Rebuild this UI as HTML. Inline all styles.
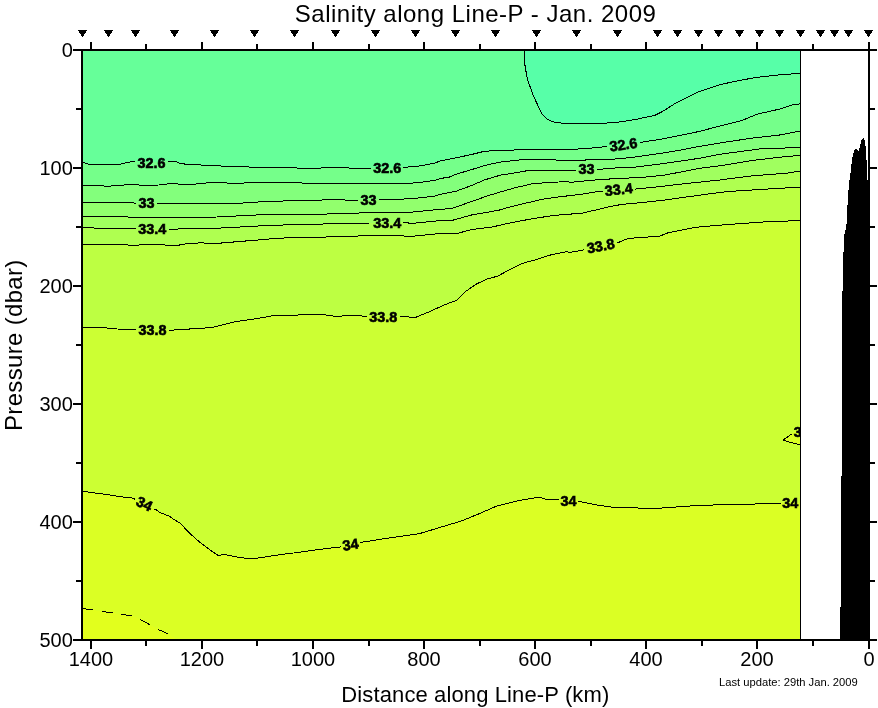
<!DOCTYPE html>
<html><head><meta charset="utf-8"><title>Salinity along Line-P - Jan. 2009</title>
<style>
html,body{margin:0;padding:0;background:#fff;}
body{width:878px;height:708px;overflow:hidden;position:relative;font-family:"Liberation Sans",sans-serif;}
</style></head><body>
<svg width="878" height="708" viewBox="0 0 878 708" style="position:absolute;left:0;top:0;will-change:transform">
<rect x="0" y="0" width="878" height="708" fill="#fff"/>
<g shape-rendering="crispEdges">
<rect x="83.0" y="50.0" width="717.0" height="590.0" fill="#66FF99"/>
<polygon points="524.3,50.0 524.8,64.2 527.2,78.6 533.2,95.4 541.6,113.4 547.6,119.4 552.4,121.8 560.8,123.0 586.0,123.6 600.0,123.6 621.5,121.8 638.3,118.9 655.0,115.3 662.2,111.7 676.6,102.6 698.1,91.9 719.6,84.7 736.4,81.1 755.5,77.5 777.0,75.1 800.5,73.3 800.0,50.0" fill="#57FFA8"/>
<polygon points="82.8,162.4 89.2,164.4 119.5,164.4 128.0,162.4 133.6,161.3 151.3,162.3 167.5,161.0 176.0,161.6 180.2,163.4 187.3,164.4 204.8,165.2 233.6,166.6 260.0,167.3 312.6,168.3 331.8,167.6 370.2,168.5 387.2,168.3 405.0,167.3 420.6,165.9 435.0,163.0 440.0,161.0 455.9,157.9 471.9,154.4 481.5,152.0 494.2,150.4 519.7,149.9 551.6,149.6 577.1,149.2 580.0,148.7 594.1,147.9 606.1,146.5 623.3,144.5 639.3,142.6 659.1,139.5 678.8,135.6 700.0,131.3 719.8,126.0 741.5,120.7 757.4,114.1 779.1,109.2 793.0,104.8 800.5,103.8 800.0,640.0 82.0,640.0" fill="#75FF8A"/>
<polygon points="82.8,185.6 102.6,185.3 105.4,186.4 128.0,184.7 136.5,184.3 140.7,185.3 159.1,185.0 163.3,184.2 176.0,183.5 178.8,184.3 192.9,184.3 212.0,182.4 236.0,183.4 260.0,182.2 288.6,182.9 351.0,183.4 370.2,183.9 399.0,183.9 418.2,182.7 435.0,180.3 440.0,178.6 449.6,177.0 455.9,174.3 471.9,169.5 484.6,165.5 500.6,162.0 522.9,159.6 554.8,159.6 557.2,160.7 580.0,160.2 618.1,158.9 636.5,156.8 661.9,153.2 678.8,150.4 700.0,146.3 723.7,142.4 753.4,137.9 779.1,135.1 800.5,131.0 800.0,640.0 82.0,640.0" fill="#83FF7C"/>
<polygon points="82.8,202.5 132.2,202.5 135.8,203.4 146.5,203.4 157.4,203.4 233.6,203.6 260.0,201.9 286.2,200.9 334.2,199.7 358.2,200.4 368.5,199.9 379.8,199.7 411.0,198.8 435.0,196.1 440.0,194.5 455.9,191.3 471.9,185.4 484.6,179.9 500.6,175.1 516.5,172.7 529.3,170.3 575.5,170.3 586.5,169.8 597.6,169.5 612.5,168.1 636.5,167.0 664.7,163.4 700.0,158.2 719.8,154.3 759.3,149.0 800.5,147.4 800.0,640.0 82.0,640.0" fill="#92FF6D"/>
<polygon points="82.8,216.4 126.6,216.4 129.4,217.5 200.0,217.8 216.8,217.0 260.0,214.8 291.0,214.6 334.2,213.9 382.2,212.2 411.0,212.2 435.0,209.8 440.0,209.5 452.8,208.2 471.9,201.4 487.8,195.8 503.8,191.0 516.5,187.4 534.1,183.4 548.4,182.7 566.0,181.5 570.8,182.4 580.0,181.4 594.1,180.1 618.1,178.4 640.7,177.6 664.7,175.1 700.0,168.3 719.8,165.8 751.4,160.6 779.1,157.3 800.5,155.3 800.0,640.0 82.0,640.0" fill="#A0FF5F"/>
<polygon points="82.8,227.2 92.7,227.2 94.8,228.4 135.1,228.4 152.0,229.0 168.2,229.8 177.4,229.3 178.8,228.4 200.0,228.1 212.0,228.5 260.0,225.9 291.0,224.7 346.2,223.5 370.2,223.0 387.2,222.8 405.0,222.3 411.0,223.5 435.0,221.1 440.0,220.5 452.8,220.2 471.9,214.9 499.0,210.2 503.8,208.6 522.9,203.8 542.1,199.3 561.2,196.6 580.0,194.5 594.1,192.1 602.6,191.1 619.0,189.6 635.1,189.1 661.9,186.4 678.8,184.3 700.0,182.1 719.8,180.0 749.5,176.1 787.0,173.1 800.5,171.1 800.0,640.0 82.0,640.0" fill="#AFFF50"/>
<polygon points="82.8,244.3 126.6,244.3 129.4,245.4 137.9,245.4 140.7,244.3 163.3,244.3 166.1,245.4 177.4,245.4 187.3,243.5 200.0,242.9 216.8,243.4 260.0,239.8 279.0,238.1 307.8,237.6 351.0,236.2 389.4,235.2 411.0,236.4 434.7,234.1 440.0,233.3 457.5,233.3 471.9,229.6 492.6,226.9 510.2,222.9 529.3,219.3 551.6,215.7 567.6,214.2 580.0,213.6 594.1,210.4 608.2,206.9 622.4,204.3 643.5,202.4 664.7,200.1 678.8,198.0 700.0,195.2 711.9,193.5 727.7,191.5 779.1,188.3 800.5,187.3 800.0,640.0 82.0,640.0" fill="#BDFF42"/>
<polygon points="82.4,327.6 107.1,328.0 122.6,329.5 136.2,329.5 152.4,330.3 169.1,330.3 211.7,327.6 234.9,321.8 254.3,319.0 273.6,315.6 289.1,315.9 304.6,314.4 324.0,314.8 335.6,316.3 351.1,315.6 368.5,316.3 383.3,316.7 400.5,316.5 415.5,317.4 429.2,311.8 445.6,304.4 456.5,300.3 464.7,292.1 475.7,284.4 486.6,279.2 497.5,276.2 511.2,268.8 522.1,263.4 535.8,259.8 549.5,255.2 565.9,251.9 571.4,252.2 584.2,249.8 600.7,246.1 617.8,242.7 628.3,238.4 659.7,236.2 668.2,232.7 693.8,227.6 700.0,226.9 727.7,224.5 769.2,221.6 800.5,220.6 800.0,640.0 82.0,640.0" fill="#CCFF33"/>
<polygon points="82.4,491.3 110.0,495.0 120.0,496.6 125.0,497.2 132.0,497.9 134.0,498.7 135.4,499.7 143.9,503.5 153.1,508.6 156.3,509.7 160.1,512.8 163.9,514.1 169.5,516.3 173.3,519.0 180.2,523.3 190.3,533.9 200.3,542.7 210.3,550.2 217.8,555.2 225.4,554.7 237.9,557.2 251.7,559.0 268.0,556.5 285.5,554.0 300.0,552.2 314.6,550.0 340.7,546.9 350.6,544.7 361.3,542.3 391.5,537.6 419.2,533.7 443.8,526.3 462.2,520.7 480.7,513.1 496.0,506.3 517.6,500.8 539.1,497.1 545.2,499.2 557.8,499.8 568.6,501.0 580.0,501.6 595.4,504.7 613.8,507.5 656.8,508.4 699.9,505.3 740.0,504.4 754.8,504.4 755.5,503.4 781.4,503.4 800.5,503.4 800.0,640.0 82.0,640.0" fill="#DBFF24"/>
<polygon points="83,608.5 93,609.9 102,611.5 113,613 121,614.5 132.2,615.7 139.9,619.4 149.9,624.7 158,629.4 168,633.7 176,639 83,639" fill="#E2FF1D"/>
<polygon points="796,431 783,440.2 793.6,443.3 800,444.7 800,431" fill="#DBFF24"/>
</g>
<g fill="none" stroke="#000" stroke-width="1" stroke-linejoin="round" shape-rendering="crispEdges">
<polyline points="524.3,50.0 524.8,64.2 527.2,78.6 533.2,95.4 541.6,113.4 547.6,119.4 552.4,121.8 560.8,123.0 586.0,123.6 600.0,123.6 621.5,121.8 638.3,118.9 655.0,115.3 662.2,111.7 676.6,102.6 698.1,91.9 719.6,84.7 736.4,81.1 755.5,77.5 777.0,75.1 800.5,73.3"/>
<polyline points="82.8,162.4 89.2,164.4 119.5,164.4 128.0,162.4 133.6,161.3 135.2,161.4"/>
<polyline points="167.7,161.0 176.0,161.6 180.2,163.4 187.3,164.4 204.8,165.2 233.6,166.6 260.0,167.3 312.6,168.3 331.8,167.6 370.2,168.5 370.9,168.5"/>
<polyline points="403.4,167.4 405.0,167.3 420.6,165.9 435.0,163.0 440.0,161.0 455.9,157.9 471.9,154.4 481.5,152.0 494.2,150.4 519.7,149.9 551.6,149.6 577.1,149.2 580.0,148.7 594.1,147.9 606.1,146.5 607.1,146.4"/>
<polyline points="639.6,142.5 659.1,139.5 678.8,135.6 700.0,131.3 719.8,126.0 741.5,120.7 757.4,114.1 779.1,109.2 793.0,104.8 800.5,103.8"/>
<polyline points="82.8,185.6 102.6,185.3 105.4,186.4 128.0,184.7 136.5,184.3 140.7,185.3 159.1,185.0 163.3,184.2 176.0,183.5 178.8,184.3 192.9,184.3 212.0,182.4 236.0,183.4 260.0,182.2 288.6,182.9 351.0,183.4 370.2,183.9 399.0,183.9 418.2,182.7 435.0,180.3 440.0,178.6 449.6,177.0 455.9,174.3 471.9,169.5 484.6,165.5 500.6,162.0 522.9,159.6 554.8,159.6 557.2,160.7 580.0,160.2 618.1,158.9 636.5,156.8 661.9,153.2 678.8,150.4 700.0,146.3 723.7,142.4 753.4,137.9 779.1,135.1 800.5,131.0"/>
<polyline points="82.8,202.5 132.2,202.5 135.8,203.4 136.1,203.4"/>
<polyline points="157.1,203.4 157.4,203.4 233.6,203.6 260.0,201.9 286.2,200.9 334.2,199.7 358.0,200.4"/>
<polyline points="379.0,199.7 379.8,199.7 411.0,198.8 435.0,196.1 440.0,194.5 455.9,191.3 471.9,185.4 484.6,179.9 500.6,175.1 516.5,172.7 529.3,170.3 575.5,170.3 576.0,170.3"/>
<polyline points="597.0,169.5 597.6,169.5 612.5,168.1 636.5,167.0 664.7,163.4 700.0,158.2 719.8,154.3 759.3,149.0 800.5,147.4"/>
<polyline points="82.8,216.4 126.6,216.4 129.4,217.5 200.0,217.8 216.8,217.0 260.0,214.8 291.0,214.6 334.2,213.9 382.2,212.2 411.0,212.2 435.0,209.8 440.0,209.5 452.8,208.2 471.9,201.4 487.8,195.8 503.8,191.0 516.5,187.4 534.1,183.4 548.4,182.7 566.0,181.5 570.8,182.4 580.0,181.4 594.1,180.1 618.1,178.4 640.7,177.6 664.7,175.1 700.0,168.3 719.8,165.8 751.4,160.6 779.1,157.3 800.5,155.3"/>
<polyline points="82.8,227.2 92.7,227.2 94.8,228.4 135.1,228.4 136.1,228.4"/>
<polyline points="168.6,229.8 177.4,229.3 178.8,228.4 200.0,228.1 212.0,228.5 260.0,225.9 291.0,224.7 346.2,223.5 370.2,223.0 370.9,223.0"/>
<polyline points="403.4,222.3 405.0,222.3 411.0,223.5 435.0,221.1 440.0,220.5 452.8,220.2 471.9,214.9 499.0,210.2 503.8,208.6 522.9,203.8 542.1,199.3 561.2,196.6 580.0,194.5 594.1,192.1 602.5,191.1"/>
<polyline points="635.0,189.1 635.1,189.1 661.9,186.4 678.8,184.3 700.0,182.1 719.8,180.0 749.5,176.1 787.0,173.1 800.5,171.1"/>
<polyline points="82.8,244.3 126.6,244.3 129.4,245.4 137.9,245.4 140.7,244.3 163.3,244.3 166.1,245.4 177.4,245.4 187.3,243.5 200.0,242.9 216.8,243.4 260.0,239.8 279.0,238.1 307.8,237.6 351.0,236.2 389.4,235.2 411.0,236.4 434.7,234.1 440.0,233.3 457.5,233.3 471.9,229.6 492.6,226.9 510.2,222.9 529.3,219.3 551.6,215.7 567.6,214.2 580.0,213.6 594.1,210.4 608.2,206.9 622.4,204.3 643.5,202.4 664.7,200.1 678.8,198.0 700.0,195.2 711.9,193.5 727.7,191.5 779.1,188.3 800.5,187.3"/>
<polyline points="82.4,327.6 107.1,328.0 122.6,329.5 136.2,329.5"/>
<polyline points="168.7,330.3 169.1,330.3 211.7,327.6 234.9,321.8 254.3,319.0 273.6,315.6 289.1,315.9 304.6,314.4 324.0,314.8 335.6,316.3 351.1,315.6 367.1,316.2"/>
<polyline points="399.6,316.5 400.5,316.5 415.5,317.4 429.2,311.8 445.6,304.4 456.5,300.3 464.7,292.1 475.7,284.4 486.6,279.2 497.5,276.2 511.2,268.8 522.1,263.4 535.8,259.8 549.5,255.2 565.9,251.9 571.4,252.2 584.2,249.8 584.5,249.7"/>
<polyline points="617.0,242.9 617.8,242.7 628.3,238.4 659.7,236.2 668.2,232.7 693.8,227.6 700.0,226.9 727.7,224.5 769.2,221.6 800.5,220.6"/>
<polyline points="82.4,491.3 110.0,495.0 120.0,496.6 125.0,497.2 132.0,497.9 134.0,498.7 135.1,499.4"/>
<polyline points="153.6,508.8 156.3,509.7 160.1,512.8 163.9,514.1 169.5,516.3 173.3,519.0 180.2,523.3 190.3,533.9 200.3,542.7 210.3,550.2 217.8,555.2 225.4,554.7 237.9,557.2 251.7,559.0 268.0,556.5 285.5,554.0 300.0,552.2 314.6,550.0 340.7,546.9 341.4,546.8"/>
<polyline points="359.9,542.6 361.3,542.3 391.5,537.6 419.2,533.7 443.8,526.3 462.2,520.7 480.7,513.1 496.0,506.3 517.6,500.8 539.1,497.1 545.2,499.2 557.8,499.8 559.4,500.0"/>
<polyline points="577.9,501.5 580.0,501.6 595.4,504.7 613.8,507.5 656.8,508.4 699.9,505.3 740.0,504.4 754.8,504.4 755.5,503.4 781.0,503.4"/>
<polyline points="799.5,503.4 800.5,503.4"/>
<line x1="82.5" y1="608.5" x2="93" y2="609.9"/>
<line x1="102" y1="611.5" x2="113" y2="613"/>
<line x1="121" y1="614.5" x2="132.2" y2="615.7"/>
<line x1="139.9" y1="619.4" x2="149.9" y2="624.7"/>
<line x1="158" y1="629.4" x2="168" y2="633.7"/>
<polyline points="791.5,434.1 783,440.2 793.6,443.3 800.5,444.7"/>
</g>
<clipPath id="cp"><rect x="83.0" y="50.0" width="717.0" height="590.0"/></clipPath>
<g clip-path="url(#cp)" font-family="Liberation Sans, sans-serif" font-weight="bold" font-size="14.4px" text-anchor="middle" fill="#000" stroke="#000" stroke-width="0.6">
<text x="151.4" y="167.5">32.6</text>
<text x="387.2" y="173.20000000000002">32.6</text>
<text x="623.4" y="149.70000000000002" transform="rotate(-8 623.4 144.8)">32.6</text>
<text x="146.6" y="208.0">33</text>
<text x="368.5" y="204.6">33</text>
<text x="586.5" y="174.4">33</text>
<text x="152.3" y="233.8">33.4</text>
<text x="387.2" y="228.1">33.4</text>
<text x="618.7" y="194.5" transform="rotate(-6 618.7 189.6)">33.4</text>
<text x="152.4" y="335.2">33.8</text>
<text x="383.3" y="321.59999999999997">33.8</text>
<text x="600.7" y="251.0" transform="rotate(-11 600.7 246.1)">33.8</text>
<text x="144.3" y="508.79999999999995" transform="rotate(26 144.3 503.9)">34</text>
<text x="350.6" y="549.6" transform="rotate(-8 350.6 544.7)">34</text>
<text x="568.6" y="505.9">34</text>
<text x="790.3" y="508.4">34</text>
<text x="801.8" y="437.3">34</text>
</g>
<line x1="800.5" y1="50.0" x2="800.5" y2="640.0" stroke="#000" stroke-width="1" shape-rendering="crispEdges"/>
<path d="M840,640 L840,607 L841,607 L841,476 L842,476 L842,291 L843,291 L843,252 L844,252 L844,234 L845,234 L845,230 L846,230 L846,224 L847,224 L847,205 L848,205 L848,190 L849,190 L849,180 L850,180 L850,173 L851,173 L851,164 L852,164 L852,157 L853,157 L853,153 L854,153 L854,150 L855,150 L855,149 L856,149 L856,149 L857,149 L857,150 L858,150 L858,151 L859,151 L859,148 L860,148 L860,144 L861,144 L861,140 L862,140 L862,139 L863,139 L863,138 L864,138 L864,140 L865,140 L865,146 L866,146 L866,160 L867,160 L867,180 L868,180 L868,640 Z" fill="#000" shape-rendering="crispEdges"/>
<g fill="#000" shape-rendering="crispEdges">
<rect x="81" y="49" width="2" height="592"/>
<rect x="868" y="42" width="2" height="607"/>
<rect x="73" y="49" width="797" height="2"/>
<rect x="73" y="639" width="804" height="2"/>
<rect x="870" y="49" width="7" height="2"/>
<rect x="90" y="42" width="2" height="7"/>
<rect x="90" y="641" width="2" height="8"/>
<rect x="145" y="44" width="2" height="5"/>
<rect x="145" y="641" width="2" height="5"/>
<rect x="201" y="42" width="2" height="7"/>
<rect x="201" y="641" width="2" height="8"/>
<rect x="256" y="44" width="2" height="5"/>
<rect x="256" y="641" width="2" height="5"/>
<rect x="312" y="42" width="2" height="7"/>
<rect x="312" y="641" width="2" height="8"/>
<rect x="368" y="44" width="2" height="5"/>
<rect x="368" y="641" width="2" height="5"/>
<rect x="423" y="42" width="2" height="7"/>
<rect x="423" y="641" width="2" height="8"/>
<rect x="479" y="44" width="2" height="5"/>
<rect x="479" y="641" width="2" height="5"/>
<rect x="534" y="42" width="2" height="7"/>
<rect x="534" y="641" width="2" height="8"/>
<rect x="590" y="44" width="2" height="5"/>
<rect x="590" y="641" width="2" height="5"/>
<rect x="645" y="42" width="2" height="7"/>
<rect x="645" y="641" width="2" height="8"/>
<rect x="701" y="44" width="2" height="5"/>
<rect x="701" y="641" width="2" height="5"/>
<rect x="756" y="42" width="2" height="7"/>
<rect x="756" y="641" width="2" height="8"/>
<rect x="812" y="44" width="2" height="5"/>
<rect x="812" y="641" width="2" height="5"/>
<rect x="868" y="42" width="2" height="7"/>
<rect x="868" y="641" width="2" height="8"/>
<rect x="76" y="108" width="5" height="2"/>
<rect x="870" y="108" width="5" height="2"/>
<rect x="73" y="167" width="8" height="2"/>
<rect x="870" y="167" width="7" height="2"/>
<rect x="76" y="226" width="5" height="2"/>
<rect x="870" y="226" width="5" height="2"/>
<rect x="73" y="285" width="8" height="2"/>
<rect x="870" y="285" width="7" height="2"/>
<rect x="76" y="344" width="5" height="2"/>
<rect x="870" y="344" width="5" height="2"/>
<rect x="73" y="403" width="8" height="2"/>
<rect x="870" y="403" width="7" height="2"/>
<rect x="76" y="462" width="5" height="2"/>
<rect x="870" y="462" width="5" height="2"/>
<rect x="73" y="521" width="8" height="2"/>
<rect x="870" y="521" width="7" height="2"/>
<rect x="76" y="580" width="5" height="2"/>
<rect x="870" y="580" width="5" height="2"/>
</g>
<path d="M78,30h9v1h-9zM79,31h7v1h-7zM79,32h7v1h-7zM80,33h5v1h-5zM81,34h3v1h-3zM81,35h3v1h-3zM82,36h1v1h-1zM104,30h9v1h-9zM105,31h7v1h-7zM105,32h7v1h-7zM106,33h5v1h-5zM107,34h3v1h-3zM107,35h3v1h-3zM108,36h1v1h-1zM131,30h9v1h-9zM132,31h7v1h-7zM132,32h7v1h-7zM133,33h5v1h-5zM134,34h3v1h-3zM134,35h3v1h-3zM135,36h1v1h-1zM170,30h9v1h-9zM171,31h7v1h-7zM171,32h7v1h-7zM172,33h5v1h-5zM173,34h3v1h-3zM173,35h3v1h-3zM174,36h1v1h-1zM210,30h9v1h-9zM211,31h7v1h-7zM211,32h7v1h-7zM212,33h5v1h-5zM213,34h3v1h-3zM213,35h3v1h-3zM214,36h1v1h-1zM250,30h9v1h-9zM251,31h7v1h-7zM251,32h7v1h-7zM252,33h5v1h-5zM253,34h3v1h-3zM253,35h3v1h-3zM254,36h1v1h-1zM290,30h9v1h-9zM291,31h7v1h-7zM291,32h7v1h-7zM292,33h5v1h-5zM293,34h3v1h-3zM293,35h3v1h-3zM294,36h1v1h-1zM331,30h9v1h-9zM332,31h7v1h-7zM332,32h7v1h-7zM333,33h5v1h-5zM334,34h3v1h-3zM334,35h3v1h-3zM335,36h1v1h-1zM371,30h9v1h-9zM372,31h7v1h-7zM372,32h7v1h-7zM373,33h5v1h-5zM374,34h3v1h-3zM374,35h3v1h-3zM375,36h1v1h-1zM411,30h9v1h-9zM412,31h7v1h-7zM412,32h7v1h-7zM413,33h5v1h-5zM414,34h3v1h-3zM414,35h3v1h-3zM415,36h1v1h-1zM451,30h9v1h-9zM452,31h7v1h-7zM452,32h7v1h-7zM453,33h5v1h-5zM454,34h3v1h-3zM454,35h3v1h-3zM455,36h1v1h-1zM491,30h9v1h-9zM492,31h7v1h-7zM492,32h7v1h-7zM493,33h5v1h-5zM494,34h3v1h-3zM494,35h3v1h-3zM495,36h1v1h-1zM532,30h9v1h-9zM533,31h7v1h-7zM533,32h7v1h-7zM534,33h5v1h-5zM535,34h3v1h-3zM535,35h3v1h-3zM536,36h1v1h-1zM572,30h9v1h-9zM573,31h7v1h-7zM573,32h7v1h-7zM574,33h5v1h-5zM575,34h3v1h-3zM575,35h3v1h-3zM576,36h1v1h-1zM613,30h9v1h-9zM614,31h7v1h-7zM614,32h7v1h-7zM615,33h5v1h-5zM616,34h3v1h-3zM616,35h3v1h-3zM617,36h1v1h-1zM653,30h9v1h-9zM654,31h7v1h-7zM654,32h7v1h-7zM655,33h5v1h-5zM656,34h3v1h-3zM656,35h3v1h-3zM657,36h1v1h-1zM673,30h9v1h-9zM674,31h7v1h-7zM674,32h7v1h-7zM675,33h5v1h-5zM676,34h3v1h-3zM676,35h3v1h-3zM677,36h1v1h-1zM694,30h9v1h-9zM695,31h7v1h-7zM695,32h7v1h-7zM696,33h5v1h-5zM697,34h3v1h-3zM697,35h3v1h-3zM698,36h1v1h-1zM714,30h9v1h-9zM715,31h7v1h-7zM715,32h7v1h-7zM716,33h5v1h-5zM717,34h3v1h-3zM717,35h3v1h-3zM718,36h1v1h-1zM735,30h9v1h-9zM736,31h7v1h-7zM736,32h7v1h-7zM737,33h5v1h-5zM738,34h3v1h-3zM738,35h3v1h-3zM739,36h1v1h-1zM755,30h9v1h-9zM756,31h7v1h-7zM756,32h7v1h-7zM757,33h5v1h-5zM758,34h3v1h-3zM758,35h3v1h-3zM759,36h1v1h-1zM775,30h9v1h-9zM776,31h7v1h-7zM776,32h7v1h-7zM777,33h5v1h-5zM778,34h3v1h-3zM778,35h3v1h-3zM779,36h1v1h-1zM796,30h9v1h-9zM797,31h7v1h-7zM797,32h7v1h-7zM798,33h5v1h-5zM799,34h3v1h-3zM799,35h3v1h-3zM800,36h1v1h-1zM816,30h9v1h-9zM817,31h7v1h-7zM817,32h7v1h-7zM818,33h5v1h-5zM819,34h3v1h-3zM819,35h3v1h-3zM820,36h1v1h-1zM830,30h9v1h-9zM831,31h7v1h-7zM831,32h7v1h-7zM832,33h5v1h-5zM833,34h3v1h-3zM833,35h3v1h-3zM834,36h1v1h-1zM844,30h9v1h-9zM845,31h7v1h-7zM845,32h7v1h-7zM846,33h5v1h-5zM847,34h3v1h-3zM847,35h3v1h-3zM848,36h1v1h-1zM864,30h9v1h-9zM865,31h7v1h-7zM865,32h7v1h-7zM866,33h5v1h-5zM867,34h3v1h-3zM867,35h3v1h-3zM868,36h1v1h-1z" fill="#000" shape-rendering="crispEdges"/>
<g font-family="Liberation Sans, sans-serif" fill="#000">
<text x="294.8" y="22.1" font-size="24px" letter-spacing="0.5px">Salinity along Line-P - Jan. 2009</text>
<text x="341.3" y="701.6" font-size="22px" letter-spacing="0.12px">Distance along Line-P (km)</text>
<text transform="translate(22.0 431.0) rotate(-90)" font-size="24px" letter-spacing="0.33px">Pressure (dbar)</text>
<text x="788.4" y="685.6" font-size="11.2px" text-anchor="middle">Last update: 29th Jan. 2009</text>
<text x="869.0" y="666.0" font-size="20px" text-anchor="middle">0</text>
<text x="757.0" y="666.0" font-size="20px" text-anchor="middle">200</text>
<text x="646.0" y="666.0" font-size="20px" text-anchor="middle">400</text>
<text x="535.0" y="666.0" font-size="20px" text-anchor="middle">600</text>
<text x="424.0" y="666.0" font-size="20px" text-anchor="middle">800</text>
<text x="313.0" y="666.0" font-size="20px" text-anchor="middle">1000</text>
<text x="202.0" y="666.0" font-size="20px" text-anchor="middle">1200</text>
<text x="91.0" y="666.0" font-size="20px" text-anchor="middle">1400</text>
<text x="72.8" y="57.2" font-size="20px" text-anchor="end">0</text>
<text x="72.8" y="175.2" font-size="20px" text-anchor="end">100</text>
<text x="72.8" y="293.2" font-size="20px" text-anchor="end">200</text>
<text x="72.8" y="411.2" font-size="20px" text-anchor="end">300</text>
<text x="72.8" y="529.2" font-size="20px" text-anchor="end">400</text>
<text x="72.8" y="647.2" font-size="20px" text-anchor="end">500</text>
</g>
</svg>
</body></html>
